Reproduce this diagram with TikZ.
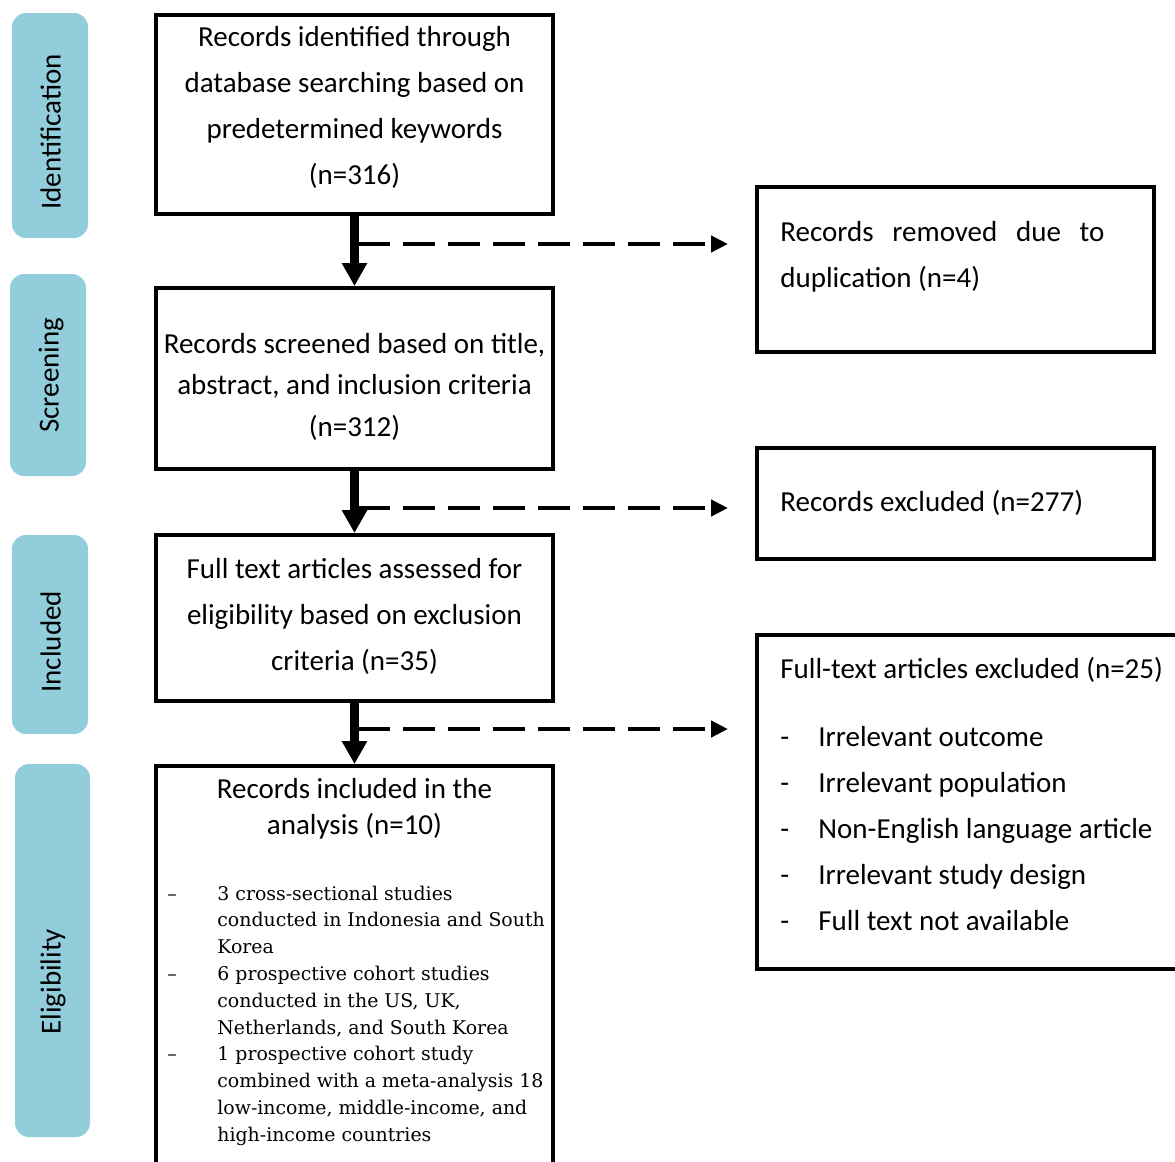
\documentclass[tikz,border=0pt]{standalone}
\usepackage{fontspec}
\setmainfont{Carlito}
\newfontfamily\listfont{DejaVu Serif}
\usetikzlibrary{arrows.meta,positioning}
\definecolor{stageblue}{HTML}{92CDDC}

\tikzset{
  stage/.style={fill=stageblue, rounded corners=7pt, inner sep=0pt, minimum width=38pt},
  stagelabel/.style={rotate=90, anchor=base west, inner sep=0pt, font=\fontsize{14.5}{17}\selectfont},
  box/.style={draw, line width=2pt, inner sep=0pt, minimum width=198.5pt},
  boxtext/.style={align=center, inner sep=0pt, font=\fontsize{14.5}{#1}\selectfont},
  boxtext/.default=23,
  flow/.style={line width=4.5pt, -{Triangle[width=12pt,length=11.5pt]}},
  aside/.style={line width=2.4pt, dash pattern=on 16pt off 6.5pt, -{Triangle[width=8pt,length=8.5pt]}},
}

\begin{document}
\begin{tikzpicture}[x=0.5pt,y=-0.5pt]
  \useasboundingbox (0,0) rectangle (1175,1162);
  \clip (0,0) rectangle (1175,1162);

  % stage bars on the left
  \node[stage, minimum height=112.5pt] (sid) at (50,125.5) {};
  \node[stage, minimum height=101pt] (ssc) at (48,375) {};
  \node[stage, minimum height=99.5pt] (sin) at (50,634.5) {};
  \node[stage, minimum width=37.5pt, minimum height=186.5pt] (sel) at (52.5,950.5) {};
  \node[stagelabel] (lid) at (60.7,210) {Identification};
  \node[stagelabel] (lsc) at (58.7,433) {Screening};
  \node[stagelabel] (lin) at (60.7,693) {Included};
  \node[stagelabel] (lel) at (60.7,1035) {Eligibility};

  % main column
  \node[box, minimum height=99.5pt] (b1) at (354.5,114.5) {};
  \node[box, minimum height=90.5pt] (b2) at (354.5,378.5) {};
  \node[box, minimum height=83pt] (b3) at (354.5,618) {};
  \node[box, minimum height=217pt] (b4) at (354.5,983) {};

  \node[boxtext, anchor=north] (t1) at (354.5,13.5)
    {\strut Records identified through\\database searching based on\\predetermined keywords\\(n=316)};
  \node[boxtext=20.75, anchor=north] (t2) at (354.5,324)
    {\strut Records screened based on title,\\abstract, and inclusion criteria\\(n=312)};
  \node[boxtext, anchor=north] (t3) at (354.5,545.8)
    {\strut Full text articles assessed for\\eligibility based on exclusion\\criteria (n=35)};
  \node[boxtext=18, anchor=north] (t4) at (354.5,772.5)
    {\strut Records included in the\\analysis (n=10)};
  \node[anchor=north west, inner sep=0pt, font=\listfont\fontsize{9.45}{13.4}\selectfont] (tl) at (167,881)
    {\begin{tabular}{@{}p{25pt}@{}l@{}}
     \textendash & 3 cross-sectional studies\\
        & conducted in Indonesia and South\\
        & Korea\\
     \textendash & 6 prospective cohort studies\\
        & conducted in the US, UK,\\
        & Netherlands, and South Korea\\
     \textendash & 1 prospective cohort study\\
        & combined with a meta-analysis 18\\
        & low-income, middle-income, and\\
        & high-income countries
     \end{tabular}};

  % side column
  \node[box, minimum height=82.5pt] (r1) at (955.5,269.5) {};
  \node[box, minimum height=55.5pt] (r2) at (955.5,503.5) {};
  \node[box, minimum width=221.5pt, minimum height=167pt] (r3) at (978.5,802) {};

  \node[boxtext, anchor=north west, align=left] (s1) at (780,209.3)
    {\strut\makebox[162pt][s]{Records removed due to}\\duplication (n=4)};
  \node[boxtext, anchor=north west, align=left] (s2) at (780,478.8)
    {\strut Records excluded (n=277)};
  \node[anchor=north west, inner sep=0pt, font=\fontsize{14.5}{23}\selectfont] (s3) at (780,645.8)
    {\begin{tabular}{@{}p{19pt}@{}l@{}}
     \multicolumn{2}{@{}l@{}}{Full-text articles excluded (n=25)}\\[11pt]
     - & Irrelevant outcome\\
     - & Irrelevant population\\
     - & Non-English language article\\
     - & Irrelevant study design\\
     - & Full text not available
     \end{tabular}};

  % connectors
  \draw[flow] (b1.south) -- (b2.north);
  \draw[flow] (b2.south) -- (b3.north);
  \draw[flow] (b3.south) -- (b4.north);

  \coordinate (j1) at (358,244);
  \coordinate (j2) at (358,508);
  \coordinate (j3) at (358,729);
  \coordinate (e1) at (728,244);
  \coordinate (e2) at (728,508);
  \coordinate (e3) at (728,729);
  \draw[aside] (j1) -- (e1);
  \draw[aside] (j2) -- (e2);
  \draw[aside] (j3) -- (e3);
\end{tikzpicture}
\end{document}
